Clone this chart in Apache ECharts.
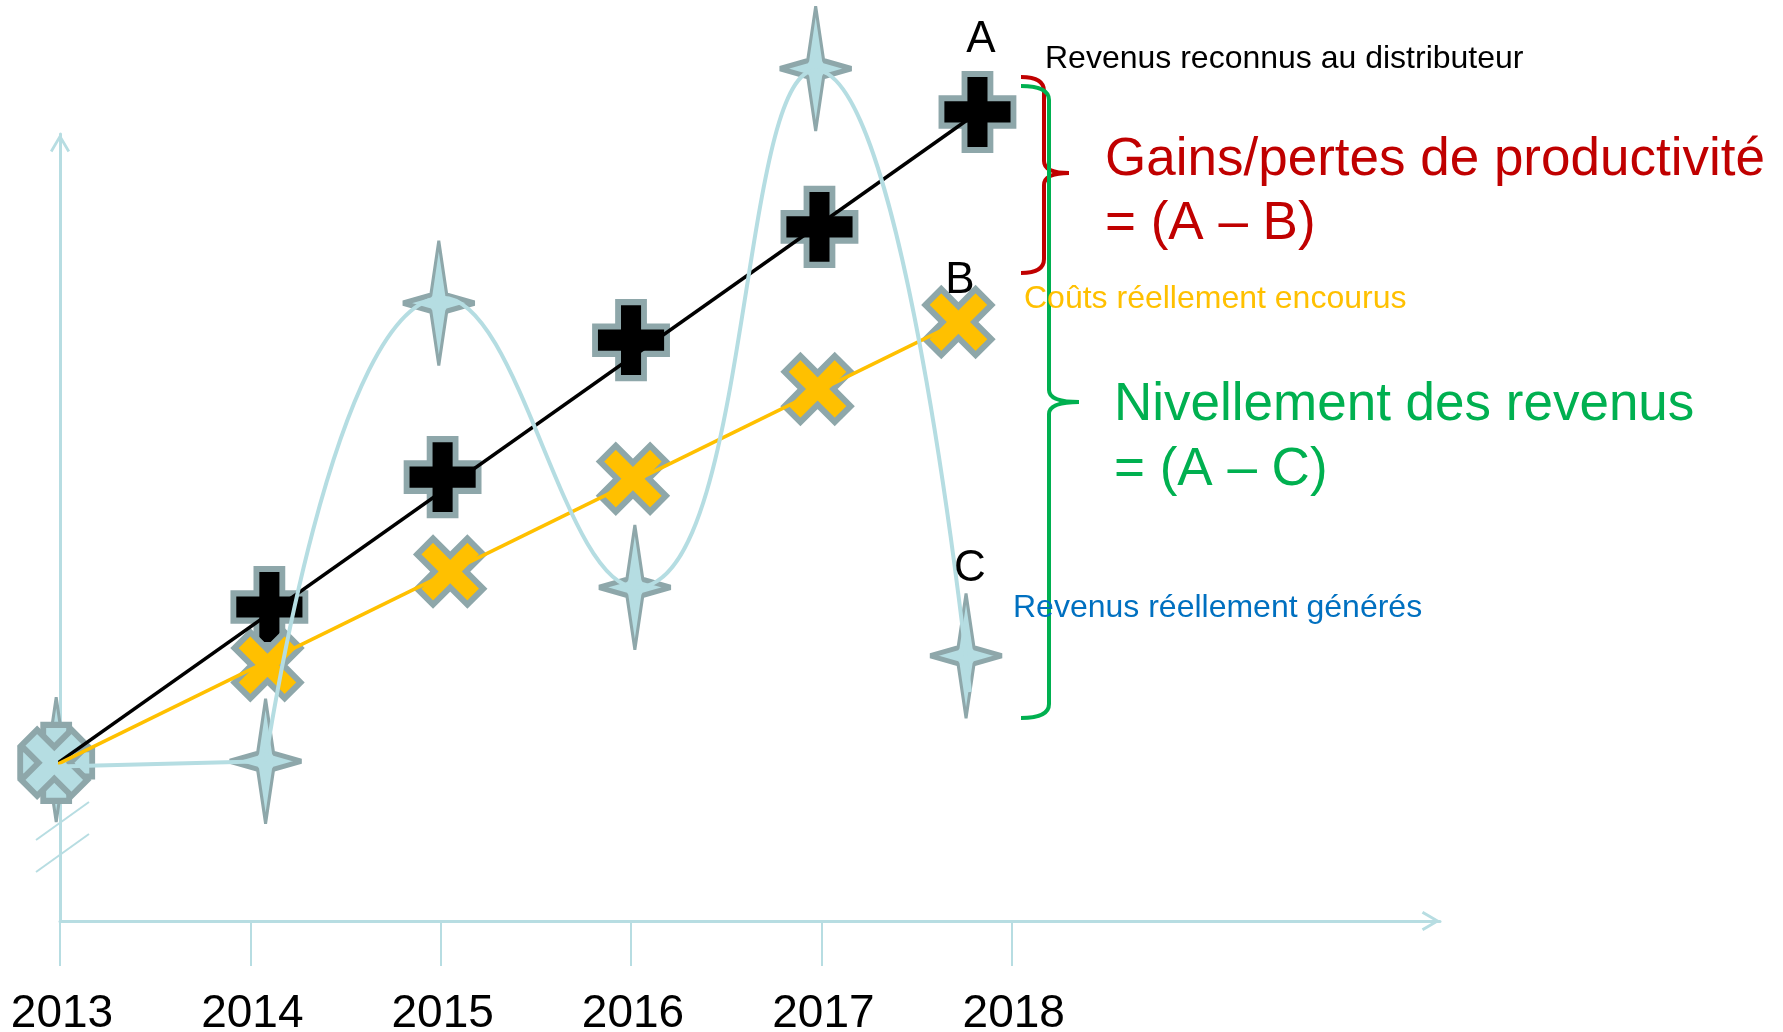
<!DOCTYPE html>
<html><head><meta charset="utf-8">
<script src="https://cdn.jsdelivr.net/npm/echarts@6/dist/echarts.min.js"></script>
<style>html,body{margin:0;padding:0;background:#fff}#c{width:1783px;height:1032px}</style>
</head><body><div id="c"></div>
<script>
// ---- data ----
const years = [2013, 2014, 2015, 2016, 2017, 2018];
const yearLabels = ['2013', '2014', '2015', '2016', '2017', '2018'];

// A : Revenus reconnus au distributeur (plus markers)
const revenusReconnusX = [2012.98, 2014.10, 2015.01, 2016.00, 2016.99, 2017.82];
const revenusReconnusY = [20.1, 39.9, 56.4, 73.8, 88.2, 102.8];
const revenusReconnusLineX = [2012.96, 2017.82];
const revenusReconnusLineY = [19.6, 102.7];

// B : Coûts réellement encourus (x markers)
const coutsX = [2012.97, 2014.09, 2015.05, 2016.01, 2016.98, 2017.72];
const coutsY = [20.1, 32.5, 44.4, 56.2, 67.6, 76.1];
const coutsLineX = [2012.96, 2017.72];
const coutsLineY = [19.6, 76.1];

// C : Revenus réellement générés (star markers)
const generesX = [2012.98, 2014.08, 2014.99, 2016.02, 2016.97, 2017.76];
const generesY = [20.5, 20.3, 78.5, 42.4, 108.3, 33.7];
const generesFlatX = [2012.96, 2014.08];
const generesFlatY = [19.6, 20.3];
const generesCurveX = [2014.08, 2015.01, 2016.03, 2016.97, 2017.78];
const generesCurveY = [20.3, 79.2, 42.4, 108.1, 29.1];

// ---- styles ----
const AXIS = '#b7dde2';
const OUTLINE = '#8ea7aa';
const PALE = '#b5dde2';
const FONT = 'Liberation Sans, Arial, sans-serif';
const pairs = (xs, ys) => xs.map((x, i) => [x, ys[i]]);
const firstPale = (arr) => arr.map((p, i) => i === 0 ? {value: p, itemStyle: {color: PALE}} : p);

const PLUS = 'path://M32,0 H68 V32 H100 V68 H68 V100 H32 V68 H0 V32 H32 Z';
const CROSS = 'path://M0,24 L24,0 L50,26 L76,0 L100,24 L74,50 L100,76 L76,100 L50,74 L24,100 L0,76 L26,50 Z';
const STAR = 'path://M36,0 L44,54 L72,62 L44,70 L36,124 L28,70 L0,62 L28,54 Z';
const CHEVRON = 'path://M0,17 L10,0 L20,17 L17.6,18.6 L10,5.6 L2.4,18.6 Z';

const chart = echarts.init(document.getElementById('c'), null, {renderer: 'canvas'});

const txt = (x, y, text, size, color, align) => ({
  type: 'text', x: x, y: y + 3, z: 50,
  style: {text: text, font: size + 'px ' + FONT, fill: color, textAlign: align || 'left', textVerticalAlign: 'middle'}
});

function brace(xl, xv, xt, yt, ym, yb, color) {
  const st = {stroke: color, lineWidth: 4, fill: null, lineCap: 'butt'};
  const r = 14;
  return [
    {type: 'bezierCurve', z: 5, shape: {x1: xl, y1: yt, x2: xv, y2: yt + r, cpx1: xv, cpy1: yt}, style: st},
    {type: 'line', z: 5, shape: {x1: xv, y1: yt + r, x2: xv, y2: ym - 12}, style: st},
    {type: 'bezierCurve', z: 5, shape: {x1: xv, y1: ym - 12, x2: xt, y2: ym, cpx1: xv, cpy1: ym}, style: st},
    {type: 'bezierCurve', z: 5, shape: {x1: xt, y1: ym, x2: xv, y2: ym + 12, cpx1: xv, cpy1: ym}, style: st},
    {type: 'line', z: 5, shape: {x1: xv, y1: ym + 12, x2: xv, y2: yb - r}, style: st},
    {type: 'bezierCurve', z: 5, shape: {x1: xv, y1: yb - r, x2: xl, y2: yb, cpx1: xv, cpy1: yb}, style: st}
  ];
}

chart.setOption({
  animation: false,
  backgroundColor: '#ffffff',
  grid: {left: 60, right: 343, top: 134, bottom: 111, containLabel: false, outerBoundsMode: 'none'},
  xAxis: {
    type: 'value', min: 2013, max: 2020.25,
    splitLine: {show: false},
    axisLine: {show: true, lineStyle: {color: AXIS, width: 3},
      symbol: ['none', CHEVRON], symbolSize: [20, 19], symbolOffset: [0, -9]},
    axisTick: {show: true, customValues: years, length: 45, lineStyle: {color: AXIS, width: 2}},
    axisLabel: {show: true, customValues: years, margin: 70,
      formatter: (v) => yearLabels[years.indexOf(Math.round(v))] || '',
      color: '#000', fontSize: 46, fontFamily: FONT, padding: [0, 0, 0, 4]}
  },
  yAxis: {
    type: 'value', min: 0, max: 100,
    splitLine: {show: false}, axisTick: {show: false}, axisLabel: {show: false},
    axisLine: {show: true, lineStyle: {color: AXIS, width: 3},
      symbol: ['none', CHEVRON], symbolSize: [20, 19], symbolOffset: [0, -9]}
  },
  series: [
    {type: 'scatter', name: 'C', z: 2, clip: false, symbol: STAR, symbolSize: [72, 124],
      itemStyle: {color: PALE, borderColor: OUTLINE, borderWidth: 4, borderJoin: 'bevel', opacity: 1},
      data: pairs(generesX, generesY)},
    {type: 'scatter', name: 'A', z: 2, clip: false, symbol: PLUS, symbolSize: [72, 76],
      itemStyle: {color: '#000', borderColor: OUTLINE, borderWidth: 6, opacity: 1},
      data: firstPale(pairs(revenusReconnusX, revenusReconnusY))},
    {type: 'scatter', name: 'B', z: 2, clip: false, symbol: CROSS, symbolSize: 66,
      itemStyle: {color: '#ffc000', borderColor: OUTLINE, borderWidth: 6, opacity: 1},
      data: firstPale(pairs(coutsX, coutsY))},
    {type: 'line', z: 3, clip: false, symbol: 'none', silent: true,
      lineStyle: {color: '#000', width: 3.5}, data: pairs(revenusReconnusLineX, revenusReconnusLineY)},
    {type: 'line', z: 3, clip: false, symbol: 'none', silent: true,
      lineStyle: {color: '#ffc000', width: 3.5}, data: pairs(coutsLineX, coutsLineY)},
    {type: 'line', z: 3, clip: false, symbol: 'none', silent: true,
      lineStyle: {color: PALE, width: 4}, data: pairs(generesFlatX, generesFlatY)},
    {type: 'line', z: 3, clip: false, symbol: 'none', silent: true, smooth: 0.5,
      lineStyle: {color: PALE, width: 4}, data: pairs(generesCurveX, generesCurveY)}
  ],
  graphic: [
    // axis break marks
    {type: 'line', z: 5, shape: {x1: 36, y1: 840, x2: 89, y2: 802}, style: {stroke: AXIS, lineWidth: 2}},
    {type: 'line', z: 5, shape: {x1: 36, y1: 872, x2: 89, y2: 834}, style: {stroke: AXIS, lineWidth: 2}}
  ].concat(
    brace(1021, 1044, 1069, 77, 173, 273, '#c00000'),
    brace(1021, 1049, 1079, 86, 402, 718, '#00b050'),
    [
    txt(981, 37, 'A', 44, '#000', 'center'),
    txt(960, 278, 'B', 44, '#000', 'center'),
    txt(970, 566, 'C', 44, '#000', 'center'),
    txt(1045, 56, 'Revenus reconnus au distributeur', 32, '#000'),
    txt(1105, 157, 'Gains/pertes de productivité', 53, '#c00000'),
    txt(1105, 221, '= (A – B)', 53, '#c00000'),
    txt(1024, 296, 'Coûts réellement encourus', 32, '#ffc000'),
    txt(1114, 402, 'Nivellement des revenus', 53, '#00b050'),
    txt(1114, 467, '= (A – C)', 53, '#00b050'),
    txt(1013, 605, 'Revenus réellement générés', 32, '#0070c0')
  ])
});
</script></body></html>
